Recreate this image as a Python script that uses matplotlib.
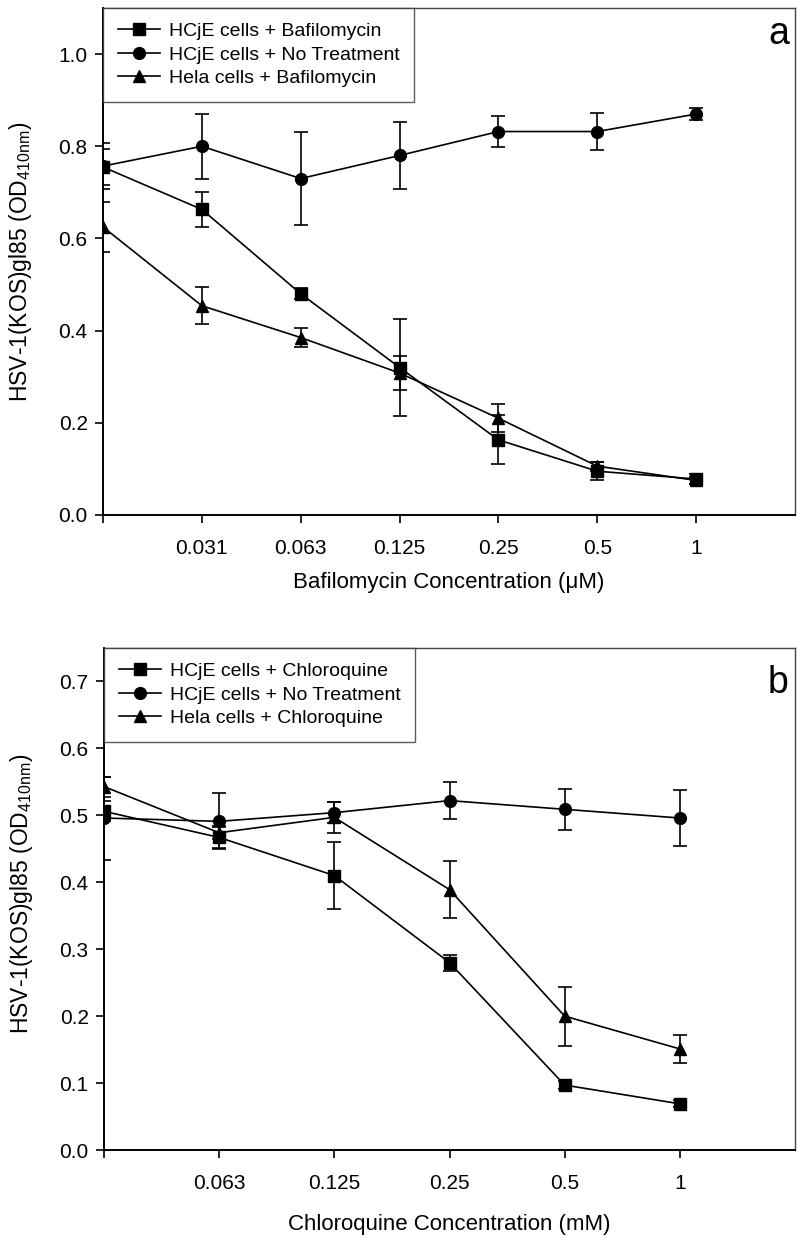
import numpy as np
import matplotlib
matplotlib.use("Agg")
import matplotlib.pyplot as plt
from matplotlib.lines import Line2D

plt.rcParams['font.family'] = ['Liberation Sans', 'DejaVu Sans']
plt.rcParams['mathtext.default'] = 'regular'

# panel a: bafilomycin dose response
conc_a = ["", "0.031", "0.063", "0.125", "0.25", "0.5", "1"]
hcje_baf = [0.755, 0.663, 0.480, 0.320, 0.163, 0.095, 0.078]
hcje_baf_err = [0.040, 0.038, 0.012, 0.105, 0.053, 0.020, 0.010]
hcje_none_a = [0.757, 0.800, 0.730, 0.780, 0.832, 0.832, 0.870]
hcje_none_a_err = [0.050, 0.070, 0.100, 0.073, 0.033, 0.040, 0.012]
hela_baf = [0.625, 0.454, 0.385, 0.308, 0.210, 0.106, 0.075]
hela_baf_err = [0.055, 0.040, 0.020, 0.037, 0.030, 0.010, 0.008]

# panel b: chloroquine dose response
conc_b = ["", "0.063", "0.125", "0.25", "0.5", "1"]
hcje_chl = [0.506, 0.467, 0.410, 0.280, 0.097, 0.069]
hcje_chl_err = [0.015, 0.016, 0.050, 0.012, 0.006, 0.005]
hcje_none_b = [0.496, 0.491, 0.504, 0.522, 0.509, 0.496]
hcje_none_b_err = [0.062, 0.042, 0.016, 0.028, 0.031, 0.042]
hela_chl = [0.543, 0.474, 0.497, 0.389, 0.200, 0.151]
hela_chl_err = [0.015, 0.010, 0.023, 0.043, 0.044, 0.021]

W, H = 798, 1238
fig = plt.figure(figsize=(W / 100, H / 100), dpi=100)


def px_axes(left, top, right, bottom):
    return fig.add_axes([left / W, 1 - bottom / H, (right - left) / W, (bottom - top) / H])


def draw_panel(ax, labels, series, ymax, ystep, xlabel, letter, xlab_y, ylab_y, letter_y):
    x = np.arange(len(labels))
    handles = []
    for vals, errs, marker, ms, name in series:
        ax.errorbar(x, vals, yerr=errs, color='black', marker=marker, markersize=ms,
                    linewidth=1.2, elinewidth=1.2, capsize=5, capthick=1.2)
        handles.append(Line2D([], [], color='black', marker=marker, markersize=ms,
                              linewidth=1.2, label=name))
    ax.set_xlim(0, len(labels))
    ax.set_ylim(0, ymax)
    ax.set_xticks(x)
    ax.set_xticklabels(labels)
    ax.set_yticks(np.arange(0, ymax - 1e-9, ystep))
    ax.yaxis.set_major_formatter(matplotlib.ticker.FormatStrFormatter('%.1f'))
    ax.tick_params(direction='out', length=6, width=1.2, labelsize=15, colors='black')
    ax.tick_params(axis='x', pad=11)
    ax.tick_params(axis='y', pad=5)
    for side in ['left', 'bottom']:
        ax.spines[side].set_linewidth(1.4)
    for side in ['top', 'right']:
        ax.spines[side].set_linewidth(1.0)
        ax.spines[side].set_color('#444444')
    ax.set_xlabel(xlabel, fontsize=16)
    ax.xaxis.set_label_coords(0.5, xlab_y)
    ax.set_ylabel('HSV-1(KOS)gl85 (OD$_{410nm}$)', fontsize=16.5)
    ax.yaxis.set_label_coords(-0.100, ylab_y)
    leg = ax.legend(handles=handles, loc='upper left', bbox_to_anchor=(0, 1.0), fontsize=14,
                    frameon=True, fancybox=False, edgecolor='#333333', borderaxespad=0,
                    handlelength=2.2, labelspacing=0.3, handletextpad=0.45, borderpad=0.75)
    leg.get_frame().set_linewidth(1.0)
    ax.text(0.991, letter_y, letter, transform=ax.transAxes, ha='right', va='baseline',
            fontsize=27)


ax_a = px_axes(103, 8, 795, 515)
draw_panel(ax_a, conc_a,
           [(hcje_baf, hcje_baf_err, 's', 8, 'HCjE cells + Bafilomycin'),
            (hcje_none_a, hcje_none_a_err, 'o', 8.5, 'HCjE cells + No Treatment'),
            (hela_baf, hela_baf_err, '^', 8.5, 'Hela cells + Bafilomycin')],
           1.1, 0.2, 'Bafilomycin Concentration (\u03bcM)', 'a', -0.112, 0.5, 0.929)

ax_b = px_axes(104, 648, 795, 1150)
draw_panel(ax_b, conc_b,
           [(hcje_chl, hcje_chl_err, 's', 8, 'HCjE cells + Chloroquine'),
            (hcje_none_b, hcje_none_b_err, 'o', 8.5, 'HCjE cells + No Treatment'),
            (hela_chl, hela_chl_err, '^', 8.5, 'Hela cells + Chloroquine')],
           0.75, 0.1, 'Chloroquine Concentration (mM)', 'b', -0.128, 0.51, 0.91)

fig.savefig('out.png', dpi=100)
